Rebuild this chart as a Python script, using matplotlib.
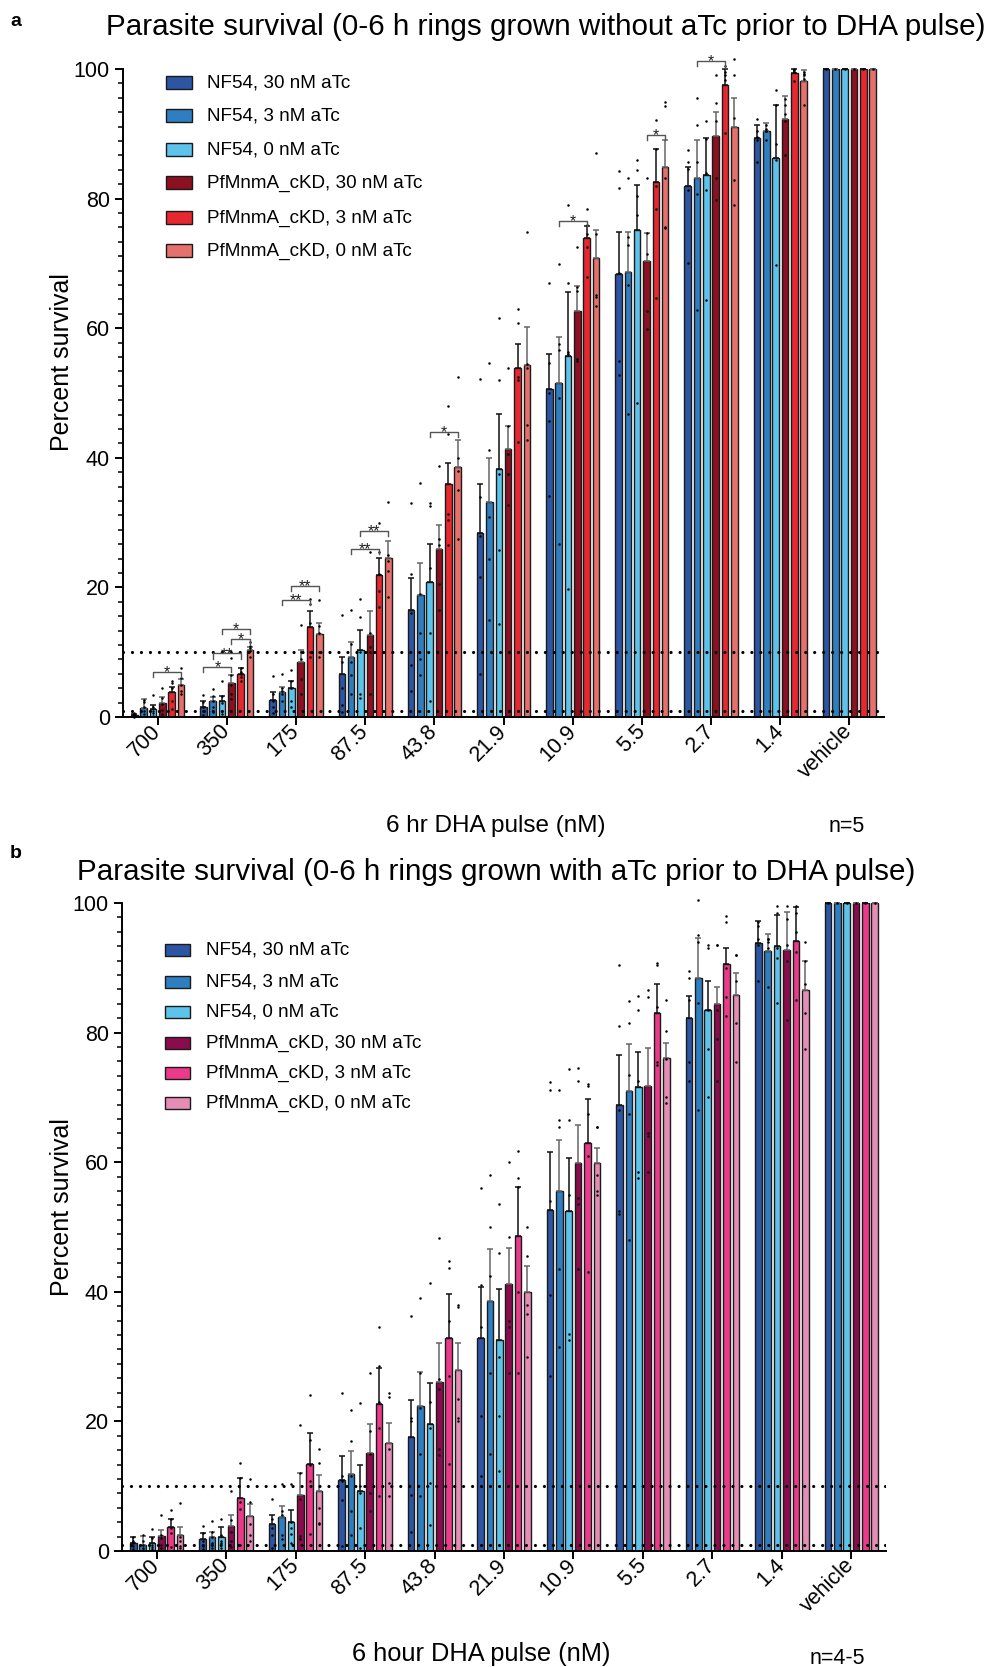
import numpy as np
import matplotlib
matplotlib.use("Agg")
import matplotlib.pyplot as plt
from matplotlib.patches import Rectangle
from matplotlib.ticker import AutoMinorLocator
from matplotlib.transforms import ScaledTranslation

plt.rcParams['font.family'] = ['Liberation Sans', 'DejaVu Sans']

# ---------------- data ----------------
doses = ["700", "350", "175", "87.5", "43.8", "21.9", "10.9", "5.5", "2.7", "1.4", "vehicle"]
series_names = ["NF54, 30 nM aTc", "NF54, 3 nM aTc", "NF54, 0 nM aTc",
                "PfMnmA_cKD, 30 nM aTc", "PfMnmA_cKD, 3 nM aTc", "PfMnmA_cKD, 0 nM aTc"]

# Panel a: rings grown without aTc prior to DHA pulse
a_nf54_30 = [0.3, 1.6, 2.7, 6.7, 16.5, 28.4, 50.6, 68.3, 81.9, 89.4, 100]
a_nf54_3 = [1.4, 2.5, 3.9, 9.3, 18.9, 33.2, 51.6, 68.6, 83.2, 90.4, 100]
a_nf54_0 = [1.2, 2.4, 4.4, 10.3, 20.8, 38.2, 55.7, 75.2, 83.7, 86.2, 100]
a_kd_30 = [2.1, 5.2, 8.5, 12.7, 25.9, 41.4, 62.6, 70.4, 89.7, 92.3, 100]
a_kd_3 = [3.8, 6.6, 13.9, 21.9, 36.0, 53.9, 73.9, 82.5, 97.6, 99.4, 100]
a_kd_0 = [4.9, 10.4, 12.8, 24.6, 38.6, 54.3, 70.8, 84.8, 91.0, 98.1, 100]

a_sem_nf54_30 = [0.1, 0.9, 1.2, 2.6, 5.0, 7.6, 5.4, 6.6, 3.0, 2.0, 0]
a_sem_nf54_3 = [1.4, 0.6, 0.7, 2.3, 4.8, 6.8, 7.0, 6.2, 5.8, 1.2, 0]
a_sem_nf54_0 = [0.6, 0.9, 1.2, 3.2, 5.9, 8.6, 9.9, 6.9, 5.6, 8.3, 0]
a_sem_kd_30 = [1.0, 1.3, 1.9, 3.6, 3.8, 3.5, 3.9, 4.3, 3.7, 3.5, 0]
a_sem_kd_3 = [0.9, 0.9, 2.4, 2.6, 3.2, 3.7, 1.8, 5.2, 2.4, 0.6, 0]
a_sem_kd_0 = [0.9, 0.4, 1.7, 2.6, 4.1, 5.9, 4.4, 4.3, 4.5, 1.8, 0]

a_pts_nf54_30 = [[0, 0.2, 0.3, 0.5, 0.6], [0.3, 1.0, 1.5, 2.3, 3.4], [0.6, 1.5, 2.5, 3.5, 6.3],
                 [0.8, 1.8, 4.5, 8.5, 15.7], [4.0, 8.0, 16.0, 22.0, 33.0], [6.7, 21.6, 28, 34, 52.1],
                 [34.1, 45.7, 50, 54.6, 67], [52.8, 54.9, 68.5, 81.6, 84.3], [70.1, 81.4, 84.6, 85.7, 87.5],
                 [85.7, 90.4, 92.3, 89, 89.5], [100]]
a_pts_nf54_3 = [[0.5, 1.0, 1.6, 2.3, 2.6], [0.8, 1.6, 2.5, 3.2, 4.3], [2.5, 3.5, 4.0, 4.5, 6.6],
                [3.5, 6.5, 8.5, 11.2, 16.5], [6.5, 9.0, 13.0, 19.0, 36.1], [14.9, 24.4, 30.9, 41.2, 54.6],
                [26.7, 49.2, 56.6, 57.6, 69.9], [46.7, 66.7, 72.9, 74, 83.2], [62.8, 80.7, 85.7, 91.4, 95.5],
                [89, 90.4, 91.4, 90.8, 90.5], [100]]
a_pts_nf54_0 = [[0.2, 0.6, 1.0, 1.5, 3.4], [0.4, 1.0, 2.2, 3.3, 5.6], [1.5, 2.5, 4.5, 5.5, 7.3],
                [3.0, 3.5, 10.0, 15.5, 18.2], [2.5, 13.0, 23.0, 32.5, 33.0], [14.4, 25.7, 37.5, 52, 61.5],
                [19.7, 56, 56.3, 66.9, 79.0], [48.4, 77.4, 80.4, 84.4, 85.9], [64.3, 81.4, 84, 89.2, 91.9],
                [69.8, 86, 88.5, 94.5, 96.7], [100]]
a_pts_kd_30 = [[0.4, 1.1, 2.0, 3.0, 4.5], [2.8, 3.5, 5.0, 6.5, 9.1], [3.5, 5.8, 9.0, 10.0, 14.2],
               [3.5, 10.0, 10.8, 13.0, 25.5], [16.5, 20.5, 26.5, 27.5, 38.8], [32.7, 37.5, 40.6, 44.9, 53.9],
               [55.0, 55.3, 65.8, 66.4, 72.5], [59.8, 62.7, 71.5, 74.7, 83.2], [79.8, 83.2, 92, 94.7, 99],
               [86.8, 92, 93, 95.4, 94.5], [100]]
a_pts_kd_3 = [[1.2, 2.5, 4.5, 5.2, 5.6], [5.5, 6.2, 6.6, 7.0, 7.6], [9.2, 10.0, 14.5, 17.5, 18.2],
              [17.0, 19.5, 22.0, 25.5, 30.0], [26.5, 30.4, 31.4, 43.6, 48.0], [42.4, 52.0, 52.5, 60.8, 62.9],
              [67.9, 72.5, 74.5, 76.0, 78.4], [64.7, 78.4, 82, 87.6, 92.1], [90.1, 98.3, 99.1, 99.5, 100.5],
              [98.2, 99.5, 100, 99.8, 99.6], [100]]
a_pts_kd_0 = [[3.5, 4.0, 5.0, 6.0, 7.6], [9.2, 10.2, 10.6, 11.0, 11.5], [9.3, 10.0, 13.0, 14.0, 18.0],
              [18.5, 22.5, 24.0, 25.0, 33.2], [27.5, 35.0, 38.0, 40.0, 52.5], [42.8, 45, 53.9, 54.5, 74.8],
              [63.4, 64.8, 65.1, 74.6, 87.0], [75.4, 75.6, 83.2, 94.3, 94.9], [79, 82.9, 92.4, 99, 101.5],
              [94.5, 98.5, 99.5, 99, 99.2], [100]]

# significance brackets panel a: (dose index, bar i, bar j, height, label)
a_brackets = [(0, 2, 5, 7.0, '*'), (1, 0, 3, 7.7, '*'), (1, 1, 4, 9.8, '**'),
              (1, 3, 5, 12.1, '*'), (1, 2, 5, 13.6, '*'), (2, 1, 4, 18.1, '**'),
              (2, 2, 5, 20.2, '**'), (3, 1, 4, 26.0, '**'), (3, 2, 5, 28.7, '**'),
              (4, 2, 5, 44.0, '*'), (6, 1, 4, 76.5, '*'), (7, 3, 5, 89.8, '*'),
              (8, 1, 4, 101.2, '*')]

# Panel b: rings grown with aTc prior to DHA pulse
b_nf54_30 = [1.2, 1.9, 4.1, 10.9, 17.6, 32.8, 52.7, 68.8, 82.2, 93.9, 100]
b_nf54_3 = [1.0, 2.2, 5.2, 11.9, 22.4, 38.6, 55.6, 71.0, 88.4, 92.6, 100]
b_nf54_0 = [1.2, 2.2, 4.4, 9.2, 19.6, 32.6, 52.4, 71.6, 83.5, 93.4, 100]
b_kd_30 = [2.3, 3.8, 8.7, 15.2, 26.1, 41.2, 59.8, 71.8, 84.4, 92.7, 100]
b_kd_3 = [3.7, 8.2, 13.5, 22.7, 32.9, 48.6, 63.0, 83.1, 90.6, 94.2, 100]
b_kd_0 = [2.4, 5.4, 9.3, 16.6, 27.9, 40.0, 59.9, 76.1, 85.8, 86.6, 100]

b_sem_nf54_30 = [0.9, 0.9, 1.4, 3.8, 5.7, 7.9, 8.8, 7.8, 3.4, 3.3, 0]
b_sem_nf54_3 = [1.3, 0.7, 1.7, 3.6, 5.3, 8.0, 7.9, 7.3, 6.2, 2.6, 0]
b_sem_nf54_0 = [1.0, 1.5, 2.0, 4.0, 6.3, 7.8, 8.3, 5.4, 4.5, 4.8, 0]
b_sem_kd_30 = [1.0, 1.7, 3.3, 4.4, 6.0, 5.6, 6.0, 5.8, 2.6, 5.9, 0]
b_sem_kd_3 = [1.3, 3.0, 4.7, 5.6, 6.8, 7.6, 6.8, 4.4, 2.4, 5.2, 0]
b_sem_kd_0 = [1.3, 1.8, 2.4, 3.2, 4.2, 4.0, 2.3, 2.3, 3.4, 4.5, 0]

b_pts_nf54_30 = [[0.3, 0.8, 1.2, 1.6, 2.1], [0.3, 0.8, 1.5, 2.8, 3.8], [0.5, 2.5, 3.5, 5.0, 8.1],
                 [0.8, 7.8, 10.8, 11.5, 24.4], [3.0, 8.7, 20.0, 20.5, 36.2], [11.5, 20.8, 34.5, 41.0, 56.0],
                 [27.0, 39.5, 54.0, 71.2, 72.4], [52.0, 52.5, 68.0, 81.0, 90.4], [72.5, 75.5, 85.0, 88.5, 89.5],
                 [88.0, 93.5, 94.5, 96.5, 97.0], [100]]
b_pts_nf54_3 = [[0.2, 0.5, 0.9, 1.5, 2.4], [0.5, 1.2, 2.2, 2.9, 4.7], [1.8, 2.5, 5.5, 6.2, 10.4],
                [2.5, 6.2, 11.5, 17.0, 21.7], [8.5, 14.9, 22.0, 27.5, 39.0], [15.0, 27.5, 42.5, 50.0, 58.0],
                [31.5, 43.5, 65.5, 66.5, 71.2], [48.0, 67.5, 73.5, 81.5, 84.8], [68.0, 84.5, 94.0, 95.0, 100.5],
                [87.0, 93.0, 94.0, 94.5, 94.5], [100]]
b_pts_nf54_0 = [[0.3, 0.6, 1.0, 2.0, 3.4], [0.5, 1.2, 1.5, 2.5, 5.0], [1.2, 2.6, 3.5, 4.5, 10.3],
                [0.5, 3.5, 9.0, 10.0, 22.9], [4.0, 10.5, 19.0, 23.0, 41.4], [12.3, 20.8, 30.0, 46.0, 53.6],
                [32.5, 33.5, 55.0, 66.5, 74.4], [57.5, 58.5, 72.5, 83.5, 85.6], [70.0, 77.5, 83.5, 93.0, 93.5],
                [84.5, 91.5, 93.0, 98.5, 99.5], [100]]
b_pts_kd_30 = [[0.5, 1.0, 2.0, 2.5, 5.6], [0.6, 1.6, 3.0, 4.8, 9.3], [1.8, 2.3, 8.0, 12.0, 19.5],
               [6.2, 9.0, 15.0, 18.5, 27.5], [14.8, 15.8, 25.0, 26.5, 48.3], [27.5, 34.5, 35.5, 48.5, 60.0],
               [43.5, 53.5, 54.5, 72.5, 74.6], [58.5, 64.0, 64.5, 85.5, 86.6], [72.5, 79.0, 83.5, 93.5, 93.5],
               [82.0, 91.0, 93.5, 97.5, 99.5], [100]]
b_pts_kd_3 = [[0.6, 2.8, 3.5, 5.0, 6.3], [1.0, 6.5, 7.5, 11.2, 13.6], [2.7, 10.8, 13.2, 17.2, 24.0],
              [8.5, 19.0, 23.0, 28.5, 34.5], [13.5, 27.0, 35.5, 44.8, 43.7], [27.5, 40.0, 56.2, 57.5, 61.8],
              [43.0, 61.0, 67.5, 71.8, 72.0], [75.0, 75.5, 84.0, 90.5, 90.8], [82.5, 85.5, 90.0, 97.0, 98.0],
              [85.0, 92.5, 95.5, 98.5, 99.5], [100]]
b_pts_kd_0 = [[0.5, 0.8, 1.5, 2.2, 7.4], [1.5, 2.5, 4.2, 7.5, 11.1], [4.2, 4.3, 6.6, 13.6, 15.8],
              [8.5, 10.5, 15.8, 23.8, 24.4], [20.0, 20.5, 23.5, 37.7, 37.9], [30.0, 36.5, 38.0, 45.5, 50.0],
              [55.0, 55.6, 58.0, 65.4, 65.5], [69.2, 70.0, 76.0, 80.2, 85.0], [75.5, 81.5, 88.0, 92.0, 92.0],
              [77.5, 83.0, 87.5, 91.0, 94.0], [100]]

ref_lines = [10, 1]

colors_a = ["#2C55A3", "#2F7EC0", "#5EC3EA", "#8C101F", "#E8282F", "#E6706B"]
colors_b = ["#2C55A3", "#2F7EC0", "#5EC3EA", "#8A0C4C", "#EC3A8A", "#E58DB4"]
ecols = ["#111111", "#666666", "#111111", "#666666", "#111111", "#666666"]

W, H = 992, 1667
STEP = 0.135
BW = 0.095

fig = plt.figure(figsize=(W / 100, H / 100), dpi=100)


def fx(px):
    return px / W


def fy(py):
    return 1 - py / H


def make_axes(left, right, top, bottom):
    return fig.add_axes([fx(left), fy(bottom), fx(right) - fx(left), (bottom - top) / H])


def draw_panel(ax, means, sems, pts, colors, brackets):
    groups = np.arange(len(doses))
    for k in range(6):
        x = groups + (k - 2.5) * STEP
        ax.bar(x, means[k], width=BW, color=colors[k], edgecolor="#1a1a1a", linewidth=1.0, zorder=2)
        ax.errorbar(x, means[k], yerr=[np.zeros(len(doses)), sems[k]], fmt='none', ecolor=ecols[k],
                    elinewidth=1.1, capsize=2.2, capthick=1.1, zorder=3, clip_on=False)
        for g in range(len(doses)):
            vals = pts[k][g]
            ax.plot([x[g]] * len(vals), vals, 'o', ms=1.8, mec='none', mfc='black', zorder=4, clip_on=False)
    for yv in ref_lines:
        ax.axhline(yv, color='black', lw=2.3, ls=(0, (0.01, 2.8)), dash_capstyle='round', zorder=5)
    for (g, i, j, yb, lab) in brackets:
        xi = g + (i - 2.5) * STEP
        xj = g + (j - 2.5) * STEP
        ax.plot([xi, xi, xj, xj], [yb - 0.8, yb, yb, yb - 0.8], color='#555555', lw=1.0, zorder=6,
                clip_on=False)
        ax.annotate(lab, xy=((xi + xj) / 2, yb), xytext=(0, -3.8), textcoords='offset points',
                    ha='center', va='baseline', fontsize=11.5, color='#222222', annotation_clip=False)
    ax.set_xlim(-0.5, len(doses) - 0.5)
    ax.set_ylim(0, 100)
    ax.set_yticks([0, 20, 40, 60, 80, 100])
    ax.yaxis.set_minor_locator(AutoMinorLocator(9))
    ax.set_xticks(groups)
    ax.set_xticklabels(doses, rotation=45, ha='right', va='center', rotation_mode='anchor')
    off = ScaledTranslation(5 / 100, -9 / 100, fig.dpi_scale_trans)
    for lab in ax.get_xticklabels():
        lab.set_transform(lab.get_transform() + off)
    for s in ['top', 'right']:
        ax.spines[s].set_visible(False)
    for s in ['left', 'bottom']:
        ax.spines[s].set_linewidth(1.4)
    ax.tick_params(axis='both', which='major', labelsize=15.5, length=6, width=1.4)
    ax.tick_params(axis='y', which='minor', length=3.5, width=1.1)
    ax.tick_params(axis='x', which='major', pad=2)


def draw_legend(colors, x0, rows, pw, ph, tx):
    for k in range(6):
        yc = rows[k]
        fig.add_artist(Rectangle((fx(x0), fy(yc + ph / 2)), pw / W, ph / H, facecolor=colors[k],
                                 edgecolor='#1a1a1a', linewidth=1.0, transform=fig.transFigure))
        fig.text(fx(tx), fy(yc), series_names[k], fontsize=13.6, va='center', ha='left')


# ---------- panel a ----------
ax_a = make_axes(123, 884, 69, 717)
draw_panel(ax_a, [a_nf54_30, a_nf54_3, a_nf54_0, a_kd_30, a_kd_3, a_kd_0],
           [a_sem_nf54_30, a_sem_nf54_3, a_sem_nf54_0, a_sem_kd_30, a_sem_kd_3, a_sem_kd_0],
           [a_pts_nf54_30, a_pts_nf54_3, a_pts_nf54_0, a_pts_kd_30, a_pts_kd_3, a_pts_kd_0],
           colors_a, a_brackets)
draw_legend(colors_a, 166, [83, 116, 150, 183, 218, 251], 26, 13, 207)
fig.text(fx(546), fy(27), "Parasite survival (0-6 h rings grown without aTc prior to DHA pulse)",
         fontsize=21.3, ha='center', va='center')
fig.text(fx(16), fy(22), "a", fontsize=14, fontweight='bold', ha='center', va='center')
fig.text(fx(62), fy(362), "Percent survival", fontsize=18, rotation=90, ha='center', va='center')
fig.text(fx(496), fy(826), "6 hr DHA pulse (nM)", fontsize=17.5, ha='center', va='center')
fig.text(fx(847), fy(827), "n=5", fontsize=15.5, ha='center', va='center')

# ---------- panel b ----------
ax_b = make_axes(122, 886, 903, 1551)
draw_panel(ax_b, [b_nf54_30, b_nf54_3, b_nf54_0, b_kd_30, b_kd_3, b_kd_0],
           [b_sem_nf54_30, b_sem_nf54_3, b_sem_nf54_0, b_sem_kd_30, b_sem_kd_3, b_sem_kd_0],
           [b_pts_nf54_30, b_pts_nf54_3, b_pts_nf54_0, b_pts_kd_30, b_pts_kd_3, b_pts_kd_0],
           colors_b, [])
draw_legend(colors_b, 165, [950, 982, 1012, 1043, 1073, 1103], 25, 12, 206)
fig.text(fx(496), fy(872), "Parasite survival (0-6 h rings grown with aTc prior to DHA pulse)",
         fontsize=21.3, ha='center', va='center')
fig.text(fx(16), fy(854), "b", fontsize=14, fontweight='bold', ha='center', va='center')
fig.text(fx(62), fy(1207), "Percent survival", fontsize=18, rotation=90, ha='center', va='center')
fig.text(fx(481), fy(1654), "6 hour DHA pulse (nM)", fontsize=18.3, ha='center', va='center')
fig.text(fx(837), fy(1658), "n=4-5", fontsize=15.5, ha='center', va='center')

fig.savefig("out.png", dpi=100)
